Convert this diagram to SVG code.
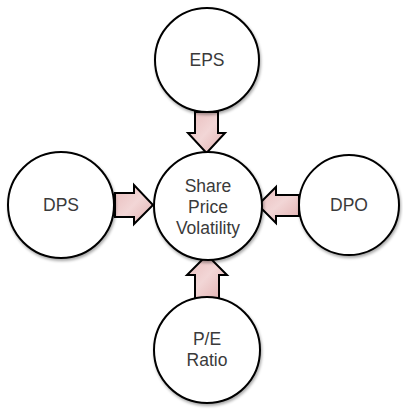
<svg xmlns="http://www.w3.org/2000/svg" width="403" height="409" viewBox="0 0 403 409">
<defs>
<linearGradient id="pk" x1="0" y1="0" x2="1" y2="1">
<stop offset="0" stop-color="#e8bcbc"/>
<stop offset="0.5" stop-color="#f2d6d6"/>
<stop offset="1" stop-color="#e2b0b0"/>
</linearGradient>
<filter id="sh" x="-20%" y="-20%" width="140%" height="140%">
<feGaussianBlur in="SourceAlpha" stdDeviation="1.5"/>
<feOffset dx="1" dy="2" result="b"/>
<feComponentTransfer><feFuncA type="linear" slope="0.35"/></feComponentTransfer>
<feMerge><feMergeNode/><feMergeNode in="SourceGraphic"/></feMerge>
</filter>
</defs>
<style>
.n{fill:#fff;stroke:#000;stroke-width:2;filter:url(#sh)}
.t{font-family:"Liberation Sans",Arial,sans-serif;font-size:17.5px;fill:#3a3a3a;text-anchor:middle}
.a{fill:url(#pk);stroke:#000;stroke-width:2;stroke-linejoin:miter}
</style>
<rect width="403" height="409" fill="#fff"/>
<g id="connectors">
<path class="a" d="M195,112 L218,112 L218,133 L225,133 L206.5,153 L188,133 L195,133 Z"/>
<path class="a" d="M115,193 L134,193 L134,185 L153,205 L134,224 L134,217 L115,217 Z"/>
<path class="a" d="M299,195 L276,195 L276,187 L258,205 L276,223 L276,216 L299,216 Z"/>
<path class="a" d="M195,298 L219,298 L219,275 L227,275 L207,255 L187,275 L195,275 Z"/>
</g>
<g id="eps"><circle class="n" cx="207" cy="60" r="52"/><text class="t" x="207" y="66">EPS</text></g>
<g id="center"><circle class="n" cx="208" cy="206" r="54"/>
<text class="t" x="208" y="192">Share</text><text class="t" x="208" y="213">Price</text><text class="t" x="208" y="234">Volatility</text></g>
<g id="dps"><circle class="n" cx="61" cy="205" r="53"/><text class="t" x="61" y="211">DPS</text></g>
<g id="dpo"><circle class="n" cx="349" cy="205" r="50"/><text class="t" x="349" y="211">DPO</text></g>
<g id="pe"><circle class="n" cx="207" cy="350" r="53"/><text class="t" x="207" y="345">P/E</text><text class="t" x="207" y="366">Ratio</text></g>
</svg>
